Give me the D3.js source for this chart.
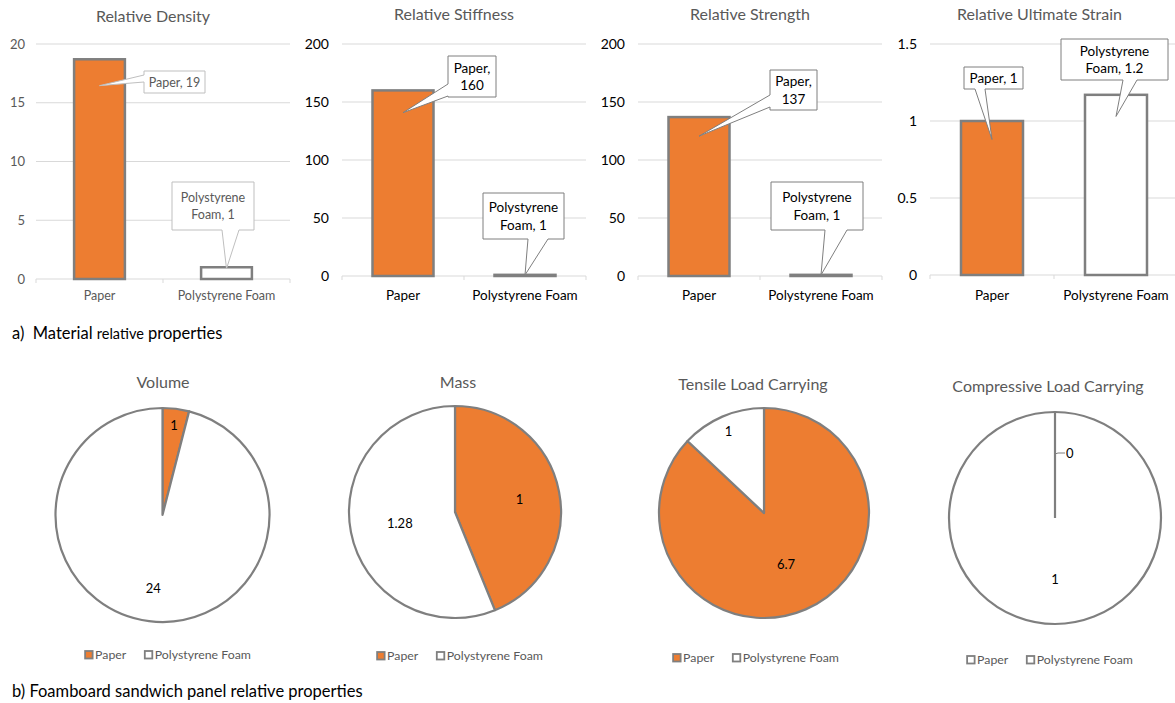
<!DOCTYPE html>
<html><head><meta charset="utf-8">
<script src="https://cdn.jsdelivr.net/npm/d3@7"></script>
<style>
body{margin:0;background:#fff;}
svg{display:block;font-family:Lato, "Open Sans", sans-serif;}
</style></head>
<body><svg id="c" width="1175" height="703"></svg>
<script>
// ---------- DATA ----------
const categories = ["Paper", "Polystyrene Foam"];
const barTitles = ["Relative Density", "Relative Stiffness", "Relative Strength", "Relative Ultimate Strain"];
const densityValues = [18.7, 1];
const stiffnessValues = [160, 1];
const strengthValues = [137, 1];
const strainValues = [1, 1.17];
const densityTicks = [0, 5, 10, 15, 20];
const stiffnessTicks = [0, 50, 100, 150, 200];
const strengthTicks = [0, 50, 100, 150, 200];
const strainTicks = [0, 0.5, 1, 1.5];
const densityLabels = [["Paper, 19"], ["Polystyrene", "Foam, 1"]];
const stiffnessLabels = [["Paper,", "160"], ["Polystyrene", "Foam, 1"]];
const strengthLabels = [["Paper,", "137"], ["Polystyrene", "Foam, 1"]];
const strainLabels = [["Paper, 1"], ["Polystyrene", "Foam, 1.2"]];

const pieTitles = ["Volume", "Mass", "Tensile Load Carrying", "Compressive Load Carrying"];
const volumeValues = [1, 24];
const massValues = [1, 1.28];
const tensileValues = [6.7, 1];
const compressiveValues = [0, 1];

const captionA = ["a)  Material ", "relative", " properties"];
const captionB = "b) Foamboard sandwich panel relative properties";

// ---------- STYLE / LAYOUT ----------
const ORANGE = "#ED7D31", GRAY = "#7F7F7F", GRID = "#D9D9D9";
const svg = d3.select("#c");
svg.append("rect").attr("width", 1175).attr("height", 703).attr("fill", "#fff");

const barLayouts = [
  {left: 36, right: 290, top: 44, bottom: 279, pad: 0.6, fs: 12.5, yfs: 13, tc: "#595959", cbStroke: "#BFBFBF", gap: 11, titleY: 22, catY: 300,
   boxes: [{x: 144, y: 71, w: 61, h: 22, side: "left", a: 75, b: 82},
           {x: 172, y: 182, w: 82, h: 48, side: "bottom", a: 222, b: 239}]},
  {left: 342, right: 586, top: 44, bottom: 276, pad: 0.5, fs: 13.5, yfs: 14, tc: "#000", cbStroke: GRAY, gap: 13, titleY: 20, catY: 300,
   boxes: [{x: 448, y: 56, w: 48, h: 41, side: "left", a: 84, b: 96},
           {x: 483, y: 193, w: 81, h: 46, side: "bottom", a: 528, b: 548}]},
  {left: 638, right: 882, top: 44, bottom: 276, pad: 0.5, fs: 13.5, yfs: 14, tc: "#000", cbStroke: GRAY, gap: 13, titleY: 20, catY: 300,
   boxes: [{x: 770, y: 70, w: 47, h: 40, side: "left", a: 95, b: 107},
           {x: 771, y: 182, w: 92, h: 48, side: "bottom", a: 825, b: 847}]},
  {left: 930, right: 1178, top: 44, bottom: 275, pad: 0.5, fs: 13.5, yfs: 14, tc: "#000", cbStroke: GRAY, gap: 13, titleY: 20, catY: 300,
   boxes: [{x: 964, y: 67, w: 59, h: 22, side: "bottom", a: 975, b: 985},
           {x: 1061, y: 39, w: 107, h: 41, side: "bottom", a: 1123, b: 1137}]}
];
const barSeries = [densityValues, stiffnessValues, strengthValues, strainValues];
const barTicks = [densityTicks, stiffnessTicks, strengthTicks, strainTicks];
const barLabels = [densityLabels, stiffnessLabels, strengthLabels, strainLabels];

barLayouts.forEach((L, i) => {
  const vals = barSeries[i], ticks = barTicks[i];
  const g = svg.append("g");
  const x = d3.scaleBand().domain(categories).range([L.left, L.right]).paddingInner(L.pad).paddingOuter(L.pad / 2);
  const y = d3.scaleLinear().domain([0, d3.max(ticks)]).range([L.bottom, L.top]);
  g.selectAll(".grid").data(ticks.filter(t => t > 0)).join("line")
    .attr("x1", L.left).attr("x2", Math.min(L.right, 1175)).attr("y1", d => y(d)).attr("y2", d => y(d))
    .attr("stroke", GRID).attr("stroke-width", 1);
  const ya = d3.axisLeft(y).tickValues(ticks).tickSize(0).tickPadding(L.gap).tickFormat(d3.format(""));
  const yg = g.append("g").attr("transform", `translate(${L.left},0)`).call(ya);
  yg.select(".domain").remove();
  yg.selectAll("text").attr("font-size", L.yfs).attr("fill", L.tc).attr("font-family", "Lato");
  const xa = d3.axisBottom(x).tickSize(0).tickPadding(0);
  const xg = g.append("g").attr("transform", `translate(0,${L.bottom})`).call(xa);
  xg.select(".domain").remove();
  xg.selectAll("text").remove();
  g.append("line").attr("x1", L.left).attr("x2", Math.min(L.right, 1175)).attr("y1", L.bottom).attr("y2", L.bottom).attr("stroke", GRID);
  const bounds = [L.left, L.left + x.step(), L.left + 2 * x.step()];
  g.selectAll(".xt").data(bounds).join("line")
    .attr("x1", d => d).attr("x2", d => d).attr("y1", L.bottom).attr("y2", L.bottom + 4).attr("stroke", GRID);
  g.selectAll(".cat").data(categories).join("text")
    .attr("x", d => x(d) + x.bandwidth() / 2).attr("y", L.catY).attr("text-anchor", "middle")
    .attr("font-size", L.fs).attr("fill", L.tc).text(d => d);
  g.selectAll(".bar").data(vals).join("rect")
    .attr("x", (d, j) => x(categories[j])).attr("width", x.bandwidth())
    .attr("y", d => y(d)).attr("height", d => Math.max(0.5, y(0) - y(d)))
    .attr("fill", (d, j) => j === 0 ? ORANGE : "#fff")
    .attr("stroke", GRAY).attr("stroke-width", 2.5);
  g.append("text").attr("x", (L.left + Math.min(L.right, 1175)) / 2 + (i === 3 ? -13 : -10)).attr("y", L.titleY)
    .attr("text-anchor", "middle").attr("font-size", 16).attr("fill", "#595959").text(barTitles[i]);
  vals.forEach((v, j) => {
    const B = L.boxes[j];
    const tx = x(categories[j]) + x.bandwidth() / 2;
    const ty = y(v * 0.88);
    let p;
    if (B.side === "bottom") {
      p = `M${B.x},${B.y}H${B.x + B.w}V${B.y + B.h}H${B.b}L${tx},${ty}L${B.a},${B.y + B.h}H${B.x}Z`;
    } else {
      p = `M${B.x},${B.y}H${B.x + B.w}V${B.y + B.h}H${B.x}V${B.b}L${tx},${ty}L${B.x},${B.a}Z`;
    }
    g.append("path").attr("d", p).attr("fill", "#fff").attr("stroke", L.cbStroke).attr("stroke-width", 1);
    const lines = barLabels[i][j];
    const lh = L.fs + 4;
    const t0 = B.y + B.h / 2 - (lines.length - 1) * lh / 2 + L.fs * 0.36;
    lines.forEach((ln, k) => {
      g.append("text").attr("x", B.x + B.w / 2).attr("y", t0 + k * lh).attr("text-anchor", "middle")
        .attr("font-size", L.fs).attr("fill", L.tc).text(ln);
    });
  });
});

const ca = svg.append("text").attr("x", 12).attr("y", 339).attr("font-size", 16.5).attr("fill", "#000")
  .style("white-space", "pre");
ca.append("tspan").text(captionA[0]);
ca.append("tspan").attr("font-size", 14.5).text(captionA[1]);
ca.append("tspan").text(captionA[2]);

// ---------- PIES ----------
const pieSeries = [volumeValues, massValues, tensileValues, compressiveValues];
const pieLayouts = [
  {cx: 162.5, cy: 515, r: 107, tx: 163, ty: 388, lr: [0.85, 0.69], lx: 168, ly: 655, lf: [ORANGE, "#fff"]},
  {cx: 455, cy: 512, r: 106, tx: 458, ty: 388, lr: [0.62, 0.53], lx: 460, ly: 656, lf: [ORANGE, "#fff"]},
  {cx: 764, cy: 513, r: 105, tx: 753, ty: 390, lr: [0.53, 0.85], lx: 756, ly: 658, lf: [ORANGE, "#fff"]},
  {cx: 1055, cy: 518, r: 106, tx: 1048, ty: 392, lr: [0.6, 0.58], lx: 1050, ly: 660, lf: ["#fff", "#fff"]}
];
pieLayouts.forEach((L, i) => {
  const vals = pieSeries[i];
  const g = svg.append("g").attr("transform", `translate(${L.cx},${L.cy})`);
  const arcs = d3.pie().sort(null)(vals);
  const arc = d3.arc().innerRadius(0).outerRadius(L.r);
  g.selectAll("path.slice").data(arcs).join("path").attr("class", "slice").attr("d", arc)
    .attr("fill", (d, j) => j === 0 ? ORANGE : "#fff").attr("stroke", GRAY).attr("stroke-width", 2.2)
    .attr("stroke-linejoin", "round");
  arcs.forEach((a, j) => {
    const m = (a.startAngle + a.endAngle) / 2;
    if (a.value === 0) {
      g.append("line").attr("x1", 0).attr("y1", 0)
        .attr("x2", Math.sin(a.startAngle) * (L.r + 1)).attr("y2", -Math.cos(a.startAngle) * (L.r + 1))
        .attr("stroke", GRAY).attr("stroke-width", 2.2);
      g.append("path").attr("d", "M0,-62Q0,-65 3,-65H10").attr("fill", "none").attr("stroke", GRAY).attr("stroke-width", 1);
      g.append("text").attr("x", 11).attr("y", -64.5 + 4.5).attr("font-size", 13).attr("fill", "#000").text(d3.format("")(a.value));
      return;
    }
    const px = Math.sin(m) * L.r * L.lr[j], py = -Math.cos(m) * L.r * L.lr[j];
    g.append("text").attr("x", px).attr("y", py + 5).attr("text-anchor", "middle")
      .attr("font-size", 13).attr("fill", "#000").text(d3.format("")(a.value));
  });
  svg.append("text").attr("x", L.tx).attr("y", L.ty).attr("text-anchor", "middle")
    .attr("font-size", 16).attr("fill", "#595959").text(pieTitles[i]);
  const lg = svg.append("g");
  const items = lg.selectAll("g").data(categories).join("g");
  items.append("rect").attr("width", 7.5).attr("height", 7.5).attr("y", -4)
    .attr("fill", (d, j) => L.lf[j]).attr("stroke", GRAY).attr("stroke-width", 1.8);
  items.append("text").attr("x", 10).attr("y", 4).attr("font-size", 12.3).attr("fill", "#595959").text(d => d);
  let off = 0;
  items.each(function(d, j) {
    d3.select(this).attr("transform", `translate(${off},0)`);
    off += this.getBBox().width + 18;
  });
  const w = off - 18;
  lg.attr("transform", `translate(${L.lx - w / 2},${L.ly})`);
});

svg.append("text").attr("x", 12).attr("y", 697).attr("font-size", 16.5).attr("fill", "#000").text(captionB);
</script></body></html>
